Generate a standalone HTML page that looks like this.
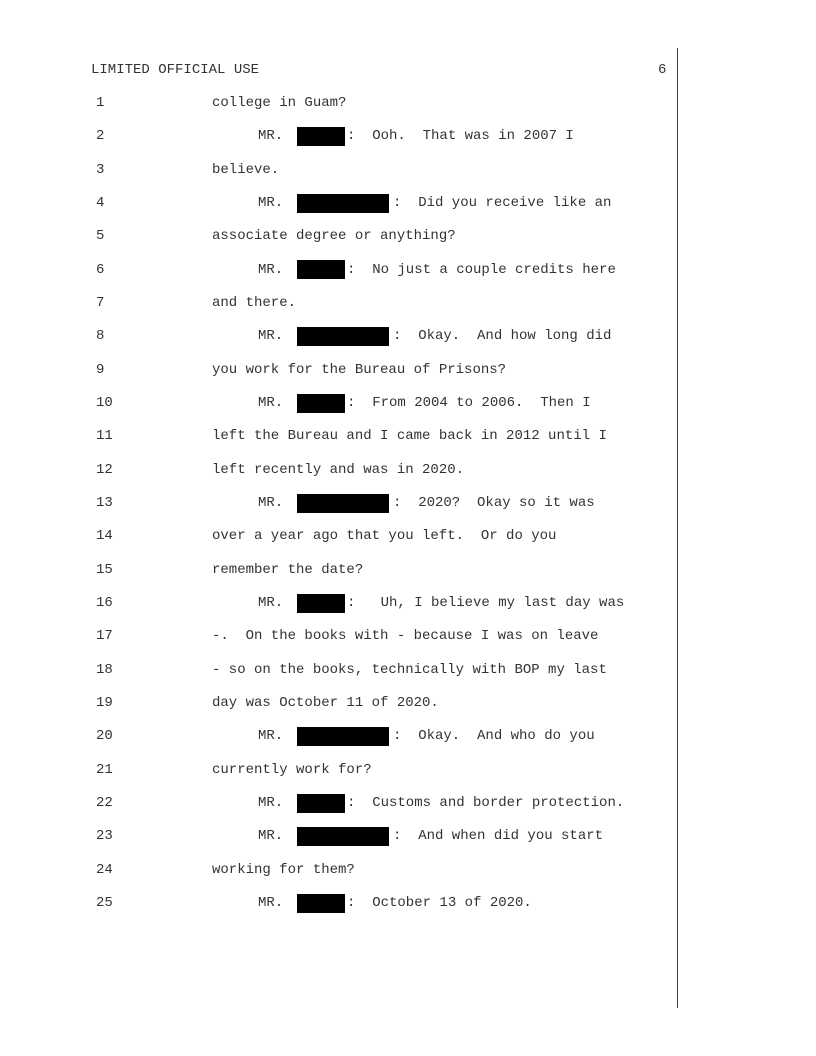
<!DOCTYPE html>
<html><head><meta charset="utf-8"><style>
html,body{margin:0;padding:0;background:#fff;}
body{width:816px;height:1056px;position:relative;overflow:hidden;font-family:"Liberation Mono",monospace;font-size:14px;color:#333;}
.r{position:absolute;left:0;width:816px;height:16px;line-height:16px;white-space:pre;}
.r span{position:absolute;top:0;}
.n{left:96px;}
.x{left:212px;}
.m{left:258px;}
.b{background:#000;height:19px;top:-1.5px !important;left:297px;}
.bs{width:48px;}
.bl{width:92px;}
.cs{left:347px;}
.cl{left:393px;}
.vl{position:absolute;left:677px;top:48px;width:1px;height:960px;background:#444;}
</style></head><body>
<div class="vl"></div>
<div class="r" style="top:62px"><span style="left:91px">LIMITED OFFICIAL USE</span><span style="left:658px">6</span></div>

<div class="r" style="top:95px"><span class="n">1</span><span class="x">college in Guam?</span></div>
<div class="r" style="top:128.3px"><span class="n">2</span><span class="m">MR.</span><span class="b bs"></span><span class="cs">:  Ooh.  That was in 2007 I</span></div>
<div class="r" style="top:161.7px"><span class="n">3</span><span class="x">believe.</span></div>
<div class="r" style="top:195px"><span class="n">4</span><span class="m">MR.</span><span class="b bl"></span><span class="cl">:  Did you receive like an</span></div>
<div class="r" style="top:228.3px"><span class="n">5</span><span class="x">associate degree or anything?</span></div>
<div class="r" style="top:261.7px"><span class="n">6</span><span class="m">MR.</span><span class="b bs"></span><span class="cs">:  No just a couple credits here</span></div>
<div class="r" style="top:295px"><span class="n">7</span><span class="x">and there.</span></div>
<div class="r" style="top:328.3px"><span class="n">8</span><span class="m">MR.</span><span class="b bl"></span><span class="cl">:  Okay.  And how long did</span></div>
<div class="r" style="top:361.7px"><span class="n">9</span><span class="x">you work for the Bureau of Prisons?</span></div>
<div class="r" style="top:395px"><span class="n">10</span><span class="m">MR.</span><span class="b bs"></span><span class="cs">:  From 2004 to 2006.  Then I</span></div>
<div class="r" style="top:428.3px"><span class="n">11</span><span class="x">left the Bureau and I came back in 2012 until I</span></div>
<div class="r" style="top:461.7px"><span class="n">12</span><span class="x">left recently and was in 2020.</span></div>
<div class="r" style="top:495px"><span class="n">13</span><span class="m">MR.</span><span class="b bl"></span><span class="cl">:  2020?  Okay so it was</span></div>
<div class="r" style="top:528.3px"><span class="n">14</span><span class="x">over a year ago that you left.  Or do you</span></div>
<div class="r" style="top:561.7px"><span class="n">15</span><span class="x">remember the date?</span></div>
<div class="r" style="top:595px"><span class="n">16</span><span class="m">MR.</span><span class="b bs"></span><span class="cs">:   Uh, I believe my last day was</span></div>
<div class="r" style="top:628.3px"><span class="n">17</span><span class="x">-.  On the books with - because I was on leave</span></div>
<div class="r" style="top:661.7px"><span class="n">18</span><span class="x">- so on the books, technically with BOP my last</span></div>
<div class="r" style="top:695px"><span class="n">19</span><span class="x">day was October 11 of 2020.</span></div>
<div class="r" style="top:728.3px"><span class="n">20</span><span class="m">MR.</span><span class="b bl"></span><span class="cl">:  Okay.  And who do you</span></div>
<div class="r" style="top:761.7px"><span class="n">21</span><span class="x">currently work for?</span></div>
<div class="r" style="top:795px"><span class="n">22</span><span class="m">MR.</span><span class="b bs"></span><span class="cs">:  Customs and border protection.</span></div>
<div class="r" style="top:828.3px"><span class="n">23</span><span class="m">MR.</span><span class="b bl"></span><span class="cl">:  And when did you start</span></div>
<div class="r" style="top:861.7px"><span class="n">24</span><span class="x">working for them?</span></div>
<div class="r" style="top:895px"><span class="n">25</span><span class="m">MR.</span><span class="b bs"></span><span class="cs">:  October 13 of 2020.</span></div>
</body></html>
